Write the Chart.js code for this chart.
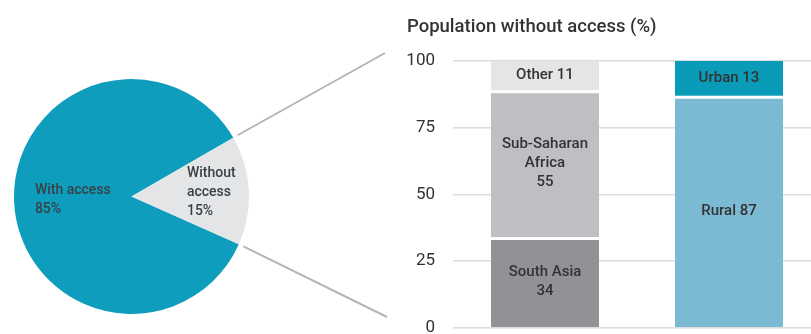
<html>
  <head>
    <title>Access split</title>
    <style>
      body {
        margin: 0;
        overflow: hidden;
        background: #fff;
      }
      #wrap {
        position: relative;
        width: 811px;
        height: 334px;
        overflow: hidden;
      }
      #pieBox {
        position: absolute;
        left: 0;
        top: 0;
        width: 390px;
        height: 334px;
      }
      #barBox {
        position: absolute;
        left: 390px;
        top: 0;
        width: 431px;
        height: 356px;
      }
    </style>
    <script src="https://cdn.jsdelivr.net/npm/chart.js@4/dist/chart.umd.min.js"></script>
  </head>
  <body>
    <div id="wrap">
      <div id="pieBox"><canvas id="pie"></canvas></div>
      <div id="barBox"><canvas id="bars"></canvas></div>
    </div>
    <script>
      const accessLabels = ['With access', 'Without access'];
      const accessShare = [85, 15];

      const regions = ['South Asia', 'Sub-Saharan Africa', 'Other'];
      const regionShare = [34, 55, 11];
      const areas = ['Rural', 'Urban'];
      const areaShare = [87, 13];

      const yTicks = [0, 25, 50, 75, 100];
      const barTitle = 'Population without access (%)';

      // names that get broken over two lines inside their bar
      const wrapped = { 'Sub-Saharan Africa': ['Sub-Saharan', 'Africa'] };

      const FONT = 'Roboto, "DejaVu Sans", sans-serif';
      const TEXT = '#333';

      // pie: slice text + the two lines that lead to the bar panel
      const pieDecor = {
        id: 'pieDecor',
        afterDatasetsDraw(chart) {
          const ctx = chart.ctx;
          const meta = chart.getDatasetMeta(0);
          const small = meta.data[1].getProps(['x', 'y', 'startAngle', 'endAngle', 'outerRadius'], true);

          ctx.save();
          ctx.strokeStyle = '#b5b5b5';
          ctx.lineWidth = 2;
          const ends = [[chart.width - 5, 53], [chart.width - 3, 317]];
          [small.startAngle, small.endAngle].forEach((a, i) => {
            const r = small.outerRadius + 5;
            ctx.beginPath();
            ctx.moveTo(small.x + Math.cos(a) * r, small.y + Math.sin(a) * r);
            ctx.lineTo(ends[i][0], ends[i][1]);
            ctx.stroke();
          });

          const factor = [0.5, 0.68];
          ctx.font = '500 14px ' + FONT;
          ctx.fillStyle = '#3a3f44';
          ctx.textAlign = 'left';
          ctx.textBaseline = 'middle';
          meta.data.forEach((arc, i) => {
            const p = arc.getProps(['x', 'y', 'startAngle', 'endAngle', 'outerRadius'], true);
            const mid = (p.startAngle + p.endAngle) / 2;
            const cx = p.x + Math.cos(mid) * p.outerRadius * factor[i];
            const cy = p.y + Math.sin(mid) * p.outerRadius * factor[i];
            const words = accessLabels[i].split(' ');
            const lines = (i === 0 ? [accessLabels[i]] : words).concat(accessShare[i] + '%');
            const w = Math.max(...lines.map((l) => ctx.measureText(l).width));
            const lh = 19;
            const y0 = cy - ((lines.length - 1) * lh) / 2;
            lines.forEach((l, k) => ctx.fillText(l, cx - w / 2, y0 + k * lh));
          });
          ctx.restore();
        },
      };

      new Chart(document.getElementById('pie'), {
        type: 'pie',
        data: {
          labels: accessLabels,
          datasets: [
            {
              data: accessShare,
              backgroundColor: ['#0e9dbd', '#e4e5e7'],
              borderWidth: 0,
            },
          ],
        },
        options: {
          responsive: true,
          maintainAspectRatio: false,
          animation: false,
          rotation: 114,
          layout: { padding: { left: 14, top: 79, right: 141, bottom: 20 } },
          plugins: { legend: { display: false }, tooltip: { enabled: false } },
        },
        plugins: [pieDecor],
      });

      // stacked bars, one column per breakdown
      const regionColors = ['#919296', '#bebfc3', '#e4e5e7'];
      const areaColors = ['#7cb9d2', '#0a9bb9'];
      const datasets = [];
      regions.forEach((name, i) => {
        datasets.push({
          label: name,
          data: [regionShare[i], null],
          backgroundColor: regionColors[i],
          borderColor: '#fff',
          borderWidth: { top: i < regions.length - 1 ? 3 : 0, left: 0, right: 0, bottom: 0 },
          borderSkipped: false,
        });
      });
      areas.forEach((name, i) => {
        datasets.push({
          label: name,
          data: [null, areaShare[i]],
          backgroundColor: areaColors[i],
          borderColor: '#fff',
          borderWidth: { top: i < areas.length - 1 ? 3 : 0, left: 0, right: 0, bottom: 0 },
          borderSkipped: false,
        });
      });

      const barText = {
        id: 'barText',
        afterDatasetsDraw(chart) {
          const ctx = chart.ctx;
          ctx.save();
          ctx.font = '500 15px ' + FONT;
          ctx.fillStyle = TEXT;
          ctx.textAlign = 'center';
          ctx.textBaseline = 'middle';
          chart.data.datasets.forEach((ds, di) => {
            const meta = chart.getDatasetMeta(di);
            meta.data.forEach((bar, j) => {
              const v = ds.data[j];
              if (v == null) return;
              const p = bar.getProps(['x', 'y', 'base'], true);
              const cy = (p.y + p.base) / 2;
              let lines;
              if (wrapped[ds.label]) lines = wrapped[ds.label].concat(String(v));
              else if (ds.label.includes(' ')) lines = [ds.label, String(v)];
              else lines = [ds.label + ' ' + v];
              const lh = 19;
              const y0 = cy - ((lines.length - 1) * lh) / 2;
              lines.forEach((l, k) => ctx.fillText(l, p.x, y0 + k * lh));
            });
          });
          ctx.restore();
        },
      };

      new Chart(document.getElementById('bars'), {
        type: 'bar',
        data: { labels: ['Region', 'Location'], datasets: datasets },
        options: {
          responsive: true,
          maintainAspectRatio: false,
          animation: false,
          layout: { padding: { left: 17, top: 0, right: 0, bottom: 0 } },
          datasets: { bar: { barPercentage: 0.587, categoryPercentage: 1 } },
          scales: {
            x: { stacked: true, display: false },
            y: {
              stacked: true,
              min: 0,
              max: 100,
              afterFit: (s) => {
                s.width = 46;
              },
              afterBuildTicks: (s) => {
                s.ticks = yTicks.map((v) => ({ value: v }));
              },
              border: { display: false },
              grid: { color: '#dcdcdc', lineWidth: 1.5, drawTicks: false },
              ticks: {
                padding: 18,
                color: TEXT,
                font: { family: FONT, size: 17 },
              },
            },
          },
          plugins: {
            legend: { display: false },
            tooltip: { enabled: false },
            title: {
              display: true,
              text: barTitle,
              align: 'start',
              color: TEXT,
              font: { family: FONT, size: 18.5, weight: '500' },
              padding: { top: 15.9, bottom: 22.9 },
            },
          },
        },
        plugins: [barText],
      });
    </script>
  </body>
</html>
